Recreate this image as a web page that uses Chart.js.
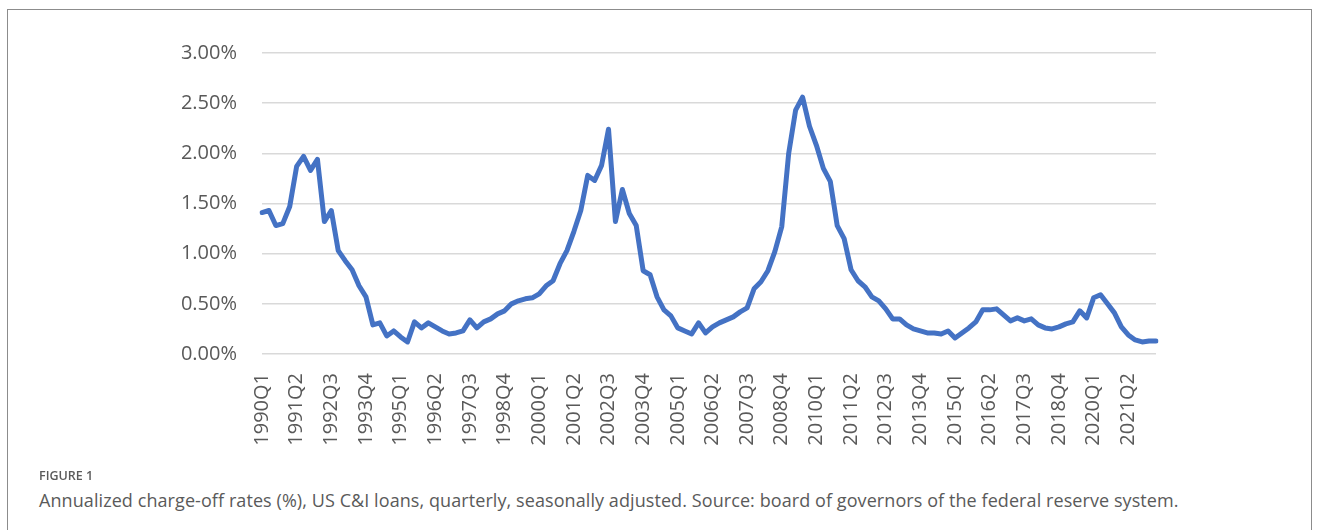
<!DOCTYPE html>
<html>
<head>
<meta charset="utf-8">
<script src="https://cdn.jsdelivr.net/npm/chart.js@4"></script>
<style>
  body { margin: 0; background: #fff; width: 1319px; height: 530px; overflow: hidden; position: relative; }
  #frame { position: absolute; left: 7px; top: 9px; width: 1303px; height: 600px;
           border: 1px solid #8c8c8c; border-bottom: none; }
  #chartBox { position: absolute; left: 0; top: 0; width: 1319px; height: 471px; }
  .fig-label { position: absolute; left: 39px; top: 467px; font-family: "Open Sans", sans-serif;
               font-size: 12.5px; font-weight: 600; color: #5a5a5a; }
  .fig-caption { position: absolute; left: 39px; top: 488px; font-family: "Open Sans", sans-serif;
                 font-size: 18px; letter-spacing: 0.08px; color: #5a5a5a; white-space: nowrap; }
</style>
</head>
<body>
<div id="frame"></div>
<div id="chartBox"><canvas id="chargeOffChart"></canvas></div>
<div class="fig-label">FIGURE 1</div>
<div class="fig-caption">Annualized charge-off rates (%), US C&amp;I loans, quarterly, seasonally adjusted. Source: board of governors of the federal reserve system.</div>
<script>
// periodo: 1990Q1 .. 2022Q2
const firstYear = 1990;
const lastYear = 2022;
const lastQuarter = 2;

// tasa anualizada de castigos (%), prestamos C&I
const chargeOffRate = [
  1.41, 1.43, 1.28, 1.30, 1.47, 1.87, 1.97, 1.83, 1.94, 1.32,
  1.43, 1.03, 0.93, 0.84, 0.68, 0.57, 0.29, 0.31, 0.18, 0.23,
  0.17, 0.12, 0.32, 0.26, 0.31, 0.27, 0.23, 0.20, 0.21, 0.23,
  0.34, 0.26, 0.32, 0.35, 0.40, 0.43, 0.50, 0.53, 0.55, 0.56,
  0.60, 0.68, 0.73, 0.90, 1.03, 1.22, 1.43, 1.78, 1.73, 1.88,
  2.24, 1.32, 1.64, 1.40, 1.28, 0.83, 0.79, 0.57, 0.44, 0.38,
  0.26, 0.23, 0.20, 0.31, 0.21, 0.27, 0.31, 0.34, 0.37, 0.42,
  0.46, 0.65, 0.72, 0.83, 1.02, 1.27, 2.00, 2.43, 2.56, 2.27,
  2.08, 1.85, 1.72, 1.28, 1.15, 0.84, 0.73, 0.67, 0.57, 0.53,
  0.45, 0.35, 0.35, 0.29, 0.25, 0.23, 0.21, 0.21, 0.20, 0.23,
  0.16, 0.21, 0.26, 0.32, 0.44, 0.44, 0.45, 0.39, 0.33, 0.36,
  0.33, 0.35, 0.29, 0.26, 0.25, 0.27, 0.30, 0.32, 0.43, 0.36,
  0.56, 0.59, 0.50, 0.41, 0.27, 0.19, 0.14, 0.12, 0.13, 0.13
];

// eje Y: 0% a 3% cada 0.5%
const yMin = 0;
const yMax = 3;
const yStep = 0.5;

// etiqueta de trimestre cada 5 periodos
const labelEvery = 5;

const quarters = [];
for (let y = firstYear; y <= lastYear; y++) {
  for (let q = 1; q <= 4; q++) {
    if (y === lastYear && q > lastQuarter) break;
    quarters.push(y + 'Q' + q);
  }
}

const axisFont = { family: "'Open Sans', sans-serif", size: 20 };
const axisColor = '#595959';

new Chart(document.getElementById('chargeOffChart'), {
  type: 'line',
  data: {
    labels: quarters,
    datasets: [{
      data: chargeOffRate,
      borderColor: '#4472C4',
      borderWidth: 5,
      pointRadius: 0,
      tension: 0,
      borderJoinStyle: 'round',
      borderCapStyle: 'round',
      fill: false
    }]
  },
  options: {
    responsive: true,
    maintainAspectRatio: false,
    animation: false,
    layout: { padding: { top: 53, right: 163, bottom: 0, left: 0 } },
    plugins: {
      legend: { display: false },
      tooltip: { enabled: false }
    },
    scales: {
      x: {
        offset: false,
        grid: { display: false, drawTicks: false },
        border: { display: false },
        afterFit: (scale) => { scale.height = 117; },
        ticks: {
          autoSkip: false,
          minRotation: 90,
          maxRotation: 90,
          padding: 19,
          color: axisColor,
          font: axisFont,
          callback: function(value, index) {
            return index % labelEvery === 0 ? this.getLabelForValue(value) : '';
          }
        }
      },
      y: {
        min: yMin,
        max: yMax,
        grid: { color: '#d9d9d9', lineWidth: 1.5, drawTicks: false },
        border: { display: false },
        afterFit: (scale) => { scale.width = 262; },
        ticks: {
          stepSize: yStep,
          padding: 25,
          color: axisColor,
          font: axisFont,
          callback: (v) => v.toFixed(2) + '%'
        }
      }
    }
  }
});
</script>
</body>
</html>
